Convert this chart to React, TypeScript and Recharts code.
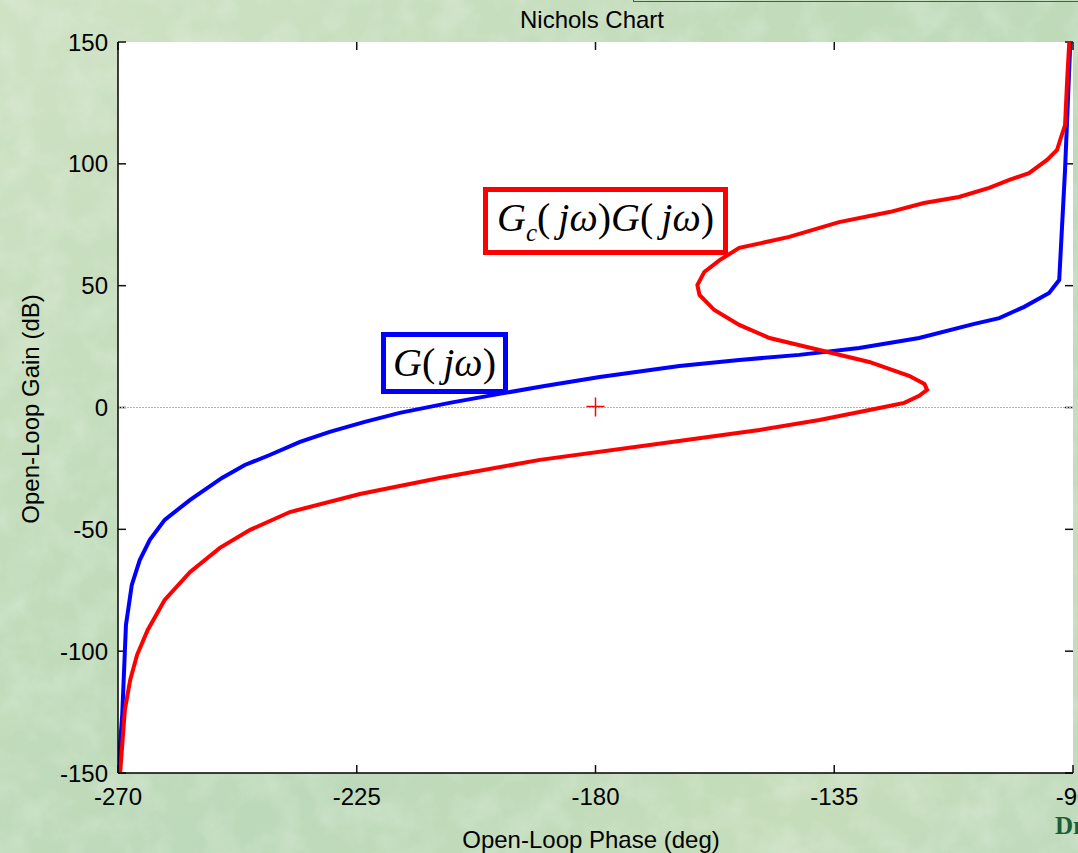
import React from "react";
import {
  ComposedChart,
  Line,
  XAxis,
  YAxis,
  CartesianGrid,
  ReferenceLine,
  ReferenceDot,
} from "recharts";

// ---- data (phase in deg, gain in dB) ----
const bluePhase = [-270, -269.2, -268.5, -267.4, -265.9, -264, -261.2, -256.4, -250.4, -246.1, -241.4, -235.7, -230.1, -223.5, -216.9, -207.5, -198.1, -189.6, -179.2, -164.2, -152.9, -141.6, -130.3, -119.0, -108.6, -103.9, -99.2, -94.5, -92.6, -91.5, -90.8, -90.5];
const blueGain = [-150, -126, -89.2, -72.8, -62.6, -54.3, -46.1, -37.9, -28.9, -23.6, -19.5, -14.1, -10.0, -5.9, -2.2, 1.9, 5.6, 8.8, 12.5, 17.0, 19.5, 21.6, 24.4, 28.5, 34.3, 36.7, 41.3, 47.0, 52.3, 97.5, 134.4, 150];

const redPhase = [-269.6, -268.7, -267.7, -266.4, -264.4, -261.2, -256.4, -250.8, -245.1, -237.6, -224.4, -209.4, -190.5, -169.8, -149.1, -137.8, -126.5, -121.8, -119.0, -117.5, -118.0, -120.9, -128.4, -137.8, -147.2, -152.9, -157.6, -160.4, -160.8, -159.5, -156.6, -152.9, -143.5, -134.1, -124.6, -118.1, -111.5, -105.8, -102.0, -98.3, -94.9, -93.0, -92.3, -91.5, -91.1, -90.7];
const redGain = [-150, -124, -111.8, -101.5, -91.3, -79, -67.5, -57.6, -50.2, -42.9, -35.5, -28.9, -21.5, -15.4, -9.2, -5.1, -0.2, 1.9, 4.8, 7.2, 9.7, 13.0, 18.7, 23.6, 28.5, 33.9, 40.0, 46.2, 50.3, 55.6, 60.5, 65.5, 70.0, 76.1, 80.2, 83.9, 86.4, 90.1, 93.4, 96.2, 101.6, 105.7, 110.6, 115.9, 134.4, 150];

const phaseTicks = [-270, -225, -180, -135, -90];
const gainTicks = [-150, -100, -50, 0, 50, 100, 150];
const criticalPhase = -180;
const criticalGain = 0;

const blueData = bluePhase.map((p, i) => ({ phase: p, gain: blueGain[i] }));
const redData = redPhase.map((p, i) => ({ phase: p, gain: redGain[i] }));

const FONT = "'Liberation Sans', Arial, Helvetica, sans-serif";
const SERIF = "'Liberation Serif', 'Times New Roman', serif";
const TICK_LEN = 8;

const BottomTick = (props: any) => {
  const { x, y, payload } = props;
  return (
    <text x={x} y={y + 32} textAnchor="middle" fontSize={24} fontFamily={FONT} fill="#000">
      {payload.value}
    </text>
  );
};

const LeftTick = (props: any) => {
  const { x, y, payload } = props;
  return (
    <text x={x - 10} y={y + 8.5} textAnchor="end" fontSize={24} fontFamily={FONT} fill="#000">
      {payload.value}
    </text>
  );
};

// inward tick marks at both ends of a (hidden) reference line
const VTickShape = (props: any) => {
  const { x1, y1, x2, y2 } = props;
  const top = Math.min(y1, y2);
  const bot = Math.max(y1, y2);
  return (
    <g stroke="#111" strokeWidth={1.5}>
      <line x1={x1} y1={top} x2={x2} y2={top + TICK_LEN} />
      <line x1={x1} y1={bot} x2={x2} y2={bot - TICK_LEN} />
    </g>
  );
};

const HTickShape = (props: any) => {
  const { x1, y1, x2, y2 } = props;
  const left = Math.min(x1, x2);
  const right = Math.max(x1, x2);
  return (
    <g stroke="#111" strokeWidth={1.5}>
      <line x1={left} y1={y1} x2={left + TICK_LEN} y2={y2} />
      <line x1={right} y1={y1} x2={right - TICK_LEN} y2={y2} />
    </g>
  );
};

const PlusShape = (props: any) => {
  const { cx, cy } = props;
  return (
    <g stroke="#ff0000" strokeWidth={1.5}>
      <line x1={cx - 9} y1={cy - 1} x2={cx + 9} y2={cy - 1} />
      <line x1={cx} y1={cy - 10} x2={cx} y2={cy + 9} />
    </g>
  );
};

const Background = () => (
  <svg width={1078} height={853} style={{ position: "absolute", left: 0, top: 0 }}>
    <defs>
      <linearGradient id="bg" x1="0" y1="0" x2="1" y2="1">
        <stop offset="0" stopColor="#cfe2c4" />
        <stop offset="0.35" stopColor="#c2dcbb" />
        <stop offset="0.6" stopColor="#bcd9b9" />
        <stop offset="0.85" stopColor="#c6ddbb" />
        <stop offset="1" stopColor="#c0dabd" />
      </linearGradient>
      <filter id="tex" x="0" y="0" width="100%" height="100%">
        <feTurbulence type="fractalNoise" baseFrequency="0.03" numOctaves="4" seed="7" />
        <feColorMatrix
          type="matrix"
          values="0 0 0 0 1  0 0 0 0 1  0 0 0 0 1  0 0 0 1.4 -0.55"
        />
      </filter>
    </defs>
    <rect x={0} y={0} width={1078} height={853} fill="url(#bg)" />
    <rect x={0} y={0} width={1078} height={853} filter="url(#tex)" opacity={0.3} />
  </svg>
);

const boxText: React.CSSProperties = {
  position: "absolute",
  background: "#fff",
  boxSizing: "border-box",
  fontFamily: SERIF,
  fontSize: 40,
  color: "#000",
  display: "flex",
  alignItems: "center",
  justifyContent: "center",
  whiteSpace: "nowrap",
  lineHeight: 1,
};

export default function App() {
  return (
    <div
      style={{
        position: "fixed",
        left: 0,
        top: 0,
        width: 1078,
        height: 853,
        overflow: "hidden",
      }}
    >
      <Background />
      <div
        style={{
          position: "absolute",
          left: 633,
          top: -20,
          width: 460,
          height: 22,
          border: "1.5px solid #555",
          boxSizing: "border-box",
        }}
      />
      <div
        style={{
          position: "absolute",
          left: 0,
          top: 6,
          width: 1184,
          textAlign: "center",
          fontFamily: FONT,
          fontSize: 24,
          lineHeight: "28px",
          color: "#000",
        }}
      >
        Nichols Chart
      </div>
      <div
        style={{
          position: "absolute",
          left: 0,
          top: 826,
          width: 1182,
          textAlign: "center",
          fontFamily: FONT,
          fontSize: 24,
          lineHeight: "28px",
          color: "#000",
        }}
      >
        Open-Loop Phase (deg)
      </div>
      <div
        style={{
          position: "absolute",
          left: 31 - 150,
          top: 409 - 14,
          width: 300,
          height: 28,
          textAlign: "center",
          fontFamily: FONT,
          fontSize: 24,
          lineHeight: "28px",
          color: "#000",
          transform: "rotate(-90deg)",
        }}
      >
        Open-Loop Gain (dB)
      </div>
      <div
        style={{
          position: "absolute",
          left: 1055,
          top: 812,
          fontFamily: SERIF,
          fontWeight: "bold",
          fontSize: 25,
          color: "#1b5e3b",
          whiteSpace: "nowrap",
        }}
      >
        Dr
      </div>
      <div style={{ position: "absolute", left: 0, top: 0 }}>
        <ComposedChart
          width={1078}
          height={853}
          margin={{ top: 42, right: 5, bottom: 0, left: 0 }}
        >
          <CartesianGrid fill="#ffffff" horizontal={false} vertical={false} stroke="none" />
          <XAxis
            dataKey="phase"
            type="number"
            domain={[-270, -90]}
            ticks={phaseTicks}
            allowDataOverflow
            height={80}
            tickSize={0}
            tickMargin={0}
            tickLine={false}
            axisLine={{ stroke: "#000", strokeWidth: 1.5 }}
            tick={<BottomTick />}
            interval={0}
          />
          <XAxis
            xAxisId="top"
            orientation="top"
            dataKey="phase"
            type="number"
            domain={[-270, -90]}
            ticks={phaseTicks}
            allowDataOverflow
            height={0}
            tickSize={0}
            tickMargin={0}
            tickLine={false}
            axisLine={{ stroke: "#000", strokeWidth: 1.5 }}
            tick={false}
          />
          <YAxis
            type="number"
            domain={[-150, 150]}
            ticks={gainTicks}
            allowDataOverflow
            width={118}
            tickSize={0}
            tickMargin={0}
            tickLine={false}
            axisLine={{ stroke: "#000", strokeWidth: 1.5 }}
            tick={<LeftTick />}
            interval={0}
          />
          <YAxis
            yAxisId="right"
            orientation="right"
            type="number"
            domain={[-150, 150]}
            ticks={gainTicks}
            allowDataOverflow
            width={0}
            tickSize={0}
            tickMargin={0}
            tickLine={false}
            axisLine={{ stroke: "#000", strokeWidth: 1.5 }}
            tick={false}
          />
          {phaseTicks.map((t) => (
            <ReferenceLine key={`vx${t}`} x={t} ifOverflow="visible" shape={<VTickShape />} />
          ))}
          {gainTicks.map((t) => (
            <ReferenceLine key={`hy${t}`} y={t} ifOverflow="visible" shape={<HTickShape />} />
          ))}
          <ReferenceLine y={0} stroke="#b4b4b4" strokeWidth={1} strokeDasharray="2 1" />
          <Line
            data={blueData}
            dataKey="gain"
            type="linear"
            stroke="#0000ff"
            strokeWidth={4}
            dot={false}
            isAnimationActive={false}
          />
          <Line
            data={redData}
            dataKey="gain"
            type="linear"
            stroke="#ff0000"
            strokeWidth={4}
            dot={false}
            isAnimationActive={false}
          />
          <ReferenceDot x={criticalPhase} y={criticalGain} r={9} shape={<PlusShape />} />
        </ComposedChart>
      </div>
      <div
        style={{
          ...boxText,
          left: 483,
          top: 187,
          width: 245,
          height: 68,
          border: "5px solid #ff0000",
        }}
      >
        <span>
          <i>G</i>
          <sub style={{ fontSize: 25, verticalAlign: "-0.4em" }}>
            <i>c</i>
          </sub>
          (<i>&thinsp;j&omega;</i>)<i>G</i>(<i>&thinsp;j&omega;</i>)
        </span>
      </div>
      <div
        style={{
          ...boxText,
          left: 381,
          top: 332,
          width: 127,
          height: 62,
          border: "5px solid #0000ff",
        }}
      >
        <span>
          <i>G</i>(<i>&thinsp;j&omega;</i>)
        </span>
      </div>
    </div>
  );
}
